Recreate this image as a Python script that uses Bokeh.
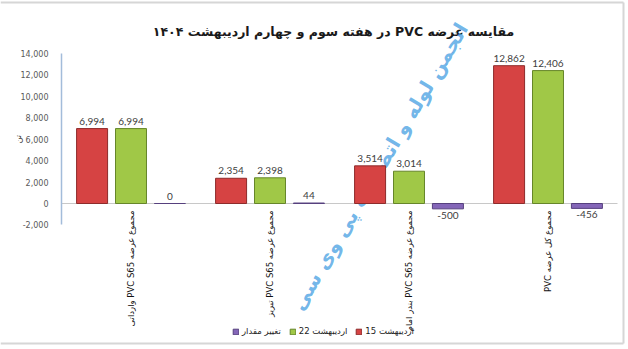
import numpy as np
from bokeh.plotting import figure
from bokeh.models import (ColumnDataSource, Range1d, FixedTicker, Legend,
                          LegendItem, NumeralTickFormatter)
from bokeh.core.properties import value
from bokeh.embed import file_html
from bokeh.resources import INLINE

# ---------------- data ----------------
title_text = "مقایسه عرضه PVC در هفته سوم و چهارم اردیبهشت ۱۴۰۴"
categories = [
    "مجموع عرضه PVC S65 وارداتی",
    "مجموع عرضه PVC S65 تبریز",
    "مجموع عرضه PVC S65 بندر امام",
    "مجموع کل عرضه PVC",
]
series_names = ["15 اردیبهشت", "22 اردیبهشت", "تغییر مقدار"]
week15 = [6994, 2354, 3514, 12862]
week22 = [6994, 2398, 3014, 12406]
change = [0, 44, -500, -456]
y_ticks = [-2000, 0, 2000, 4000, 6000, 8000, 10000, 12000, 14000]
unit_label = "تن"
watermark = "انجمن لوله و اتصالات پی وی سی"

RLE, PDF, LRM = "\u202b", "\u202c", "\u200e"

# ---------------- layout / style ----------------
W, H = 628, 349
px_per_cat = 139.0          # horizontal pixels per category
px_per_unit = 150.0 / 14000  # vertical pixels per tonne
x0_px, y0_px = 61.0, 203.0  # pixel position of (x=0, y=0)


def dx(px):  # canvas pixel -> data x (decorations only)
    return (px - x0_px) / px_per_cat


def dy(py):  # canvas pixel -> data y (decorations only)
    return (y0_px - py) / px_per_unit


fills = ["#D64343", "#A0C847", "#8466B8"]
lines = ["#8E2B2B", "#66862A", "#56407E"]
offsets = [-0.28, 0.0, 0.28]
bar_w = 0.223
arabic_font = value("DejaVu Sans")

p = figure(width=W, height=H, output_backend="svg", toolbar_location=None,
           x_range=Range1d(dx(0), dx(W)), y_range=Range1d(dy(H), dy(0)),
           min_border=0, background_fill_color="white",
           border_fill_color="white")
p.outline_line_color = None
p.xgrid.visible = False
p.ygrid.visible = False
p.xaxis.visible = False

# y axis placed at x = 0
yax = p.yaxis[0]
yax.fixed_location = 0
yax.ticker = FixedTicker(ticks=y_ticks)
yax.bounds = (y_ticks[0], y_ticks[-1])
yax.formatter = NumeralTickFormatter(format="0,0")
yax.axis_line_color = "#A3BCDA"
yax.axis_line_width = 1.5
yax.major_tick_line_color = None
yax.minor_tick_line_color = None
yax.major_label_standoff = 7
yax.major_label_text_font = "DejaVu Sans"
yax.major_label_text_font_size = "8px"
yax.major_label_text_color = "#595959"

# chart border (top, right, bottom)
p.segment(x0=[dx(0), dx(623), dx(0)], y0=[dy(2), dy(2), dy(343)],
          x1=[dx(623), dx(623), dx(623)], y1=[dy(2), dy(343), dy(343)],
          line_color="#D6D6D6", line_width=2)

# title
p.text(x=[dx(333)], y=[dy(31)], text=[RLE + title_text + PDF],
       text_align="center", text_baseline="middle", text_font=arabic_font,
       text_font_size="12.5px", text_font_style="bold", text_color="#1a1a1a")

# unit label
p.text(x=[dx(18)], y=[y_ticks[4]], text=[unit_label], angle=np.pi / 2,
       text_align="center", text_baseline="middle", text_font=arabic_font,
       text_font_size="8px", text_color="#404040")

# zero line
p.segment(x0=[0], y0=[0], x1=[len(categories)], y1=[0],
          line_color="#C8C8C8", line_width=1)

# watermark
p.text(x=[dx(379)], y=[dy(166)], text=[watermark], angle=1.04,
       text_align="center", text_baseline="middle", text_font=arabic_font,
       text_font_size="20px", text_font_style="bold",
       text_color="#4EA3E3", text_alpha=0.8)

centers = np.arange(len(categories)) + 0.5
renderers = []
for vals, off, fc, lc in zip([week15, week22, change], offsets, fills, lines):
    xs = centers + off
    src = ColumnDataSource(dict(x=xs, top=vals))
    r = p.vbar(x="x", top="top", bottom=0, width=bar_w, source=src,
               fill_color=fc, line_color=lc, line_width=1)
    renderers.append(r)
    pos = [v >= 0 for v in vals]
    src_pos = ColumnDataSource(dict(x=[x for x, k in zip(xs, pos) if k],
                                    y=[v for v, k in zip(vals, pos) if k],
                                    lab=[f"{v:,}" for v, k in zip(vals, pos) if k]))
    src_neg = ColumnDataSource(dict(x=[x for x, k in zip(xs, pos) if not k],
                                    y=[v for v, k in zip(vals, pos) if not k],
                                    lab=[f"{v:,}" for v, k in zip(vals, pos) if not k]))
    p.text(x="x", y="y", text="lab", source=src_pos, text_align="center",
           text_baseline="bottom", y_offset=-4, text_font=value("Lato"),
           text_font_size="10px", text_color="#404040")
    p.text(x="x", y="y", text="lab", source=src_neg, text_align="center",
           text_baseline="top", y_offset=3, text_font=value("Lato"),
           text_font_size="10px", text_color="#404040")

# category labels (rotated, next to zero line)
p.text(x=centers, y=[0] * len(categories), text=[RLE + c + PDF for c in categories],
       angle=np.pi / 2, text_align="right", text_baseline="middle", y_offset=7,
       text_font=arabic_font, text_font_size="8.5px", text_color="#111111")

legend = Legend(items=[LegendItem(label=LRM + series_names[i],
                                  renderers=[renderers[i]])
                       for i in [2, 1, 0]],
                orientation="horizontal", location=(232, 13),
                label_text_font="DejaVu Sans", label_text_font_size="8.5px",
                label_text_color="#222222", glyph_width=7, glyph_height=7,
                label_standoff=3, spacing=8, padding=3, margin=0,
                border_line_color=None, background_fill_alpha=0)
p.add_layout(legend, "center")

open("out.html", "w").write(file_html(p, INLINE))
